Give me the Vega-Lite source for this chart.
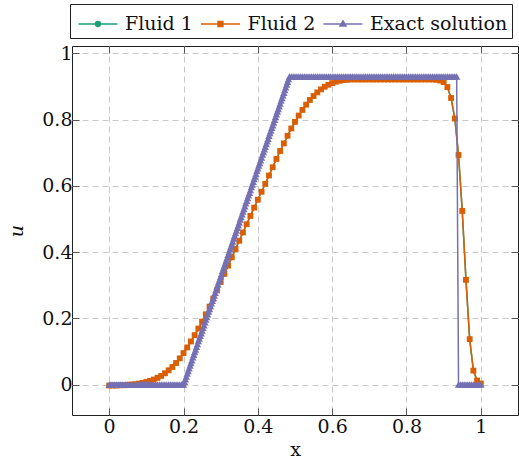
{
"$schema":"https://vega.github.io/schema/vega-lite/v6.json",
"width":446,"height":369,
"autosize":{"type":"none"},
"padding":{"left":72,"top":46,"right":1,"bottom":58},
"background":"white",
"datasets":{
"fluid":[{"x":0,"u":-0.003},{"x":0.01,"u":-0.003},{"x":0.02,"u":-0.003},{"x":0.03,"u":-0.002},{"x":0.04,"u":-0.002},{"x":0.05,"u":-0.001},{"x":0.06,"u":0},{"x":0.07,"u":0.001},{"x":0.08,"u":0.003},{"x":0.09,"u":0.005},{"x":0.1,"u":0.008},{"x":0.11,"u":0.011},{"x":0.12,"u":0.015},{"x":0.13,"u":0.02},{"x":0.14,"u":0.026},{"x":0.15,"u":0.034},{"x":0.16,"u":0.043},{"x":0.17,"u":0.053},{"x":0.18,"u":0.065},{"x":0.19,"u":0.079},{"x":0.2,"u":0.095},{"x":0.21,"u":0.112},{"x":0.22,"u":0.13},{"x":0.23,"u":0.149},{"x":0.24,"u":0.169},{"x":0.25,"u":0.19},{"x":0.26,"u":0.212},{"x":0.27,"u":0.235},{"x":0.28,"u":0.259},{"x":0.29,"u":0.284},{"x":0.3,"u":0.309},{"x":0.31,"u":0.334},{"x":0.32,"u":0.359},{"x":0.33,"u":0.384},{"x":0.34,"u":0.409},{"x":0.35,"u":0.434},{"x":0.36,"u":0.459},{"x":0.37,"u":0.484},{"x":0.38,"u":0.509},{"x":0.39,"u":0.534},{"x":0.4,"u":0.558},{"x":0.41,"u":0.582},{"x":0.42,"u":0.606},{"x":0.43,"u":0.631},{"x":0.44,"u":0.656},{"x":0.45,"u":0.681},{"x":0.46,"u":0.705},{"x":0.47,"u":0.728},{"x":0.48,"u":0.751},{"x":0.49,"u":0.773},{"x":0.5,"u":0.793},{"x":0.51,"u":0.812},{"x":0.52,"u":0.829},{"x":0.53,"u":0.845},{"x":0.54,"u":0.859},{"x":0.55,"u":0.871},{"x":0.56,"u":0.882},{"x":0.57,"u":0.891},{"x":0.58,"u":0.899},{"x":0.59,"u":0.905},{"x":0.6,"u":0.91},{"x":0.61,"u":0.914},{"x":0.62,"u":0.917},{"x":0.63,"u":0.919},{"x":0.64,"u":0.92},{"x":0.65,"u":0.921},{"x":0.66,"u":0.921},{"x":0.67,"u":0.921},{"x":0.68,"u":0.921},{"x":0.69,"u":0.921},{"x":0.7,"u":0.921},{"x":0.71,"u":0.921},{"x":0.72,"u":0.921},{"x":0.73,"u":0.921},{"x":0.74,"u":0.921},{"x":0.75,"u":0.921},{"x":0.76,"u":0.921},{"x":0.77,"u":0.921},{"x":0.78,"u":0.921},{"x":0.79,"u":0.921},{"x":0.8,"u":0.921},{"x":0.81,"u":0.921},{"x":0.82,"u":0.921},{"x":0.83,"u":0.921},{"x":0.84,"u":0.921},{"x":0.85,"u":0.921},{"x":0.86,"u":0.921},{"x":0.87,"u":0.921},{"x":0.88,"u":0.92},{"x":0.89,"u":0.918},{"x":0.9,"u":0.913},{"x":0.91,"u":0.898},{"x":0.92,"u":0.865},{"x":0.93,"u":0.803},{"x":0.94,"u":0.693},{"x":0.95,"u":0.524},{"x":0.96,"u":0.316},{"x":0.97,"u":0.137},{"x":0.98,"u":0.042},{"x":0.99,"u":0.012},{"x":1,"u":0.003}],
"exact":[{"x":0,"u":0},{"x":0.005,"u":0},{"x":0.01,"u":0},{"x":0.015,"u":0},{"x":0.02,"u":0},{"x":0.025,"u":0},{"x":0.03,"u":0},{"x":0.035,"u":0},{"x":0.04,"u":0},{"x":0.045,"u":0},{"x":0.05,"u":0},{"x":0.055,"u":0},{"x":0.06,"u":0},{"x":0.065,"u":0},{"x":0.07,"u":0},{"x":0.075,"u":0},{"x":0.08,"u":0},{"x":0.085,"u":0},{"x":0.09,"u":0},{"x":0.095,"u":0},{"x":0.1,"u":0},{"x":0.105,"u":0},{"x":0.11,"u":0},{"x":0.115,"u":0},{"x":0.12,"u":0},{"x":0.125,"u":0},{"x":0.13,"u":0},{"x":0.135,"u":0},{"x":0.14,"u":0},{"x":0.145,"u":0},{"x":0.15,"u":0},{"x":0.155,"u":0},{"x":0.16,"u":0},{"x":0.165,"u":0},{"x":0.17,"u":0},{"x":0.175,"u":0},{"x":0.18,"u":0},{"x":0.185,"u":0},{"x":0.19,"u":0},{"x":0.195,"u":0},{"x":0.2,"u":0},
{"x":0.2025,"u":0.008},{"x":0.205,"u":0.016},{"x":0.2075,"u":0.024},{"x":0.21,"u":0.033},{"x":0.2125,"u":0.041},{"x":0.215,"u":0.049},{"x":0.2175,"u":0.057},{"x":0.22,"u":0.065},{"x":0.2225,"u":0.073},{"x":0.225,"u":0.082},{"x":0.2275,"u":0.09},{"x":0.23,"u":0.098},{"x":0.2325,"u":0.106},{"x":0.235,"u":0.114},{"x":0.2375,"u":0.122},{"x":0.24,"u":0.131},{"x":0.2425,"u":0.139},{"x":0.245,"u":0.147},{"x":0.2475,"u":0.155},{"x":0.25,"u":0.163},{"x":0.2525,"u":0.171},{"x":0.255,"u":0.179},{"x":0.2575,"u":0.188},{"x":0.26,"u":0.196},{"x":0.2625,"u":0.204},{"x":0.265,"u":0.212},{"x":0.2675,"u":0.22},{"x":0.27,"u":0.228},{"x":0.2725,"u":0.237},{"x":0.275,"u":0.245},{"x":0.2775,"u":0.253},{"x":0.28,"u":0.261},{"x":0.2825,"u":0.269},{"x":0.285,"u":0.277},{"x":0.2875,"u":0.286},{"x":0.29,"u":0.294},{"x":0.2925,"u":0.302},{"x":0.295,"u":0.31},{"x":0.2975,"u":0.318},{"x":0.3,"u":0.326},{"x":0.3025,"u":0.334},{"x":0.305,"u":0.343},{"x":0.3075,"u":0.351},{"x":0.31,"u":0.359},{"x":0.3125,"u":0.367},{"x":0.315,"u":0.375},{"x":0.3175,"u":0.383},{"x":0.32,"u":0.392},{"x":0.3225,"u":0.4},{"x":0.325,"u":0.408},{"x":0.3275,"u":0.416},{"x":0.33,"u":0.424},{"x":0.3325,"u":0.432},{"x":0.335,"u":0.441},{"x":0.3375,"u":0.449},{"x":0.34,"u":0.457},{"x":0.3425,"u":0.465},{"x":0.345,"u":0.473},{"x":0.3475,"u":0.481},{"x":0.35,"u":0.489},{"x":0.3525,"u":0.498},{"x":0.355,"u":0.506},{"x":0.3575,"u":0.514},{"x":0.36,"u":0.522},{"x":0.3625,"u":0.53},{"x":0.365,"u":0.538},{"x":0.3675,"u":0.547},{"x":0.37,"u":0.555},{"x":0.3725,"u":0.563},{"x":0.375,"u":0.571},{"x":0.3775,"u":0.579},{"x":0.38,"u":0.587},{"x":0.3825,"u":0.596},{"x":0.385,"u":0.604},{"x":0.3875,"u":0.612},{"x":0.39,"u":0.62},{"x":0.3925,"u":0.628},{"x":0.395,"u":0.636},{"x":0.3975,"u":0.645},{"x":0.4,"u":0.653},{"x":0.4025,"u":0.661},{"x":0.405,"u":0.669},{"x":0.4075,"u":0.677},{"x":0.41,"u":0.685},{"x":0.4125,"u":0.694},{"x":0.415,"u":0.702},{"x":0.4175,"u":0.71},{"x":0.42,"u":0.718},{"x":0.4225,"u":0.726},{"x":0.425,"u":0.734},{"x":0.4275,"u":0.742},{"x":0.43,"u":0.751},{"x":0.4325,"u":0.759},{"x":0.435,"u":0.767},{"x":0.4375,"u":0.775},{"x":0.44,"u":0.783},{"x":0.4425,"u":0.791},{"x":0.445,"u":0.799},{"x":0.4475,"u":0.808},{"x":0.45,"u":0.816},{"x":0.4525,"u":0.824},{"x":0.455,"u":0.832},{"x":0.4575,"u":0.84},{"x":0.46,"u":0.848},{"x":0.4625,"u":0.857},{"x":0.465,"u":0.865},{"x":0.4675,"u":0.873},{"x":0.47,"u":0.881},{"x":0.4725,"u":0.889},{"x":0.475,"u":0.897},{"x":0.4775,"u":0.906},{"x":0.48,"u":0.914},{"x":0.4825,"u":0.922},{"x":0.485,"u":0.93},
{"x":0.49,"u":0.93},{"x":0.495,"u":0.93},{"x":0.5,"u":0.93},{"x":0.505,"u":0.93},{"x":0.51,"u":0.93},{"x":0.515,"u":0.93},{"x":0.52,"u":0.93},{"x":0.525,"u":0.93},{"x":0.53,"u":0.93},{"x":0.535,"u":0.93},{"x":0.54,"u":0.93},{"x":0.545,"u":0.93},{"x":0.55,"u":0.93},{"x":0.555,"u":0.93},{"x":0.56,"u":0.93},{"x":0.565,"u":0.93},{"x":0.57,"u":0.93},{"x":0.575,"u":0.93},{"x":0.58,"u":0.93},{"x":0.585,"u":0.93},{"x":0.59,"u":0.93},{"x":0.595,"u":0.93},{"x":0.6,"u":0.93},{"x":0.605,"u":0.93},{"x":0.61,"u":0.93},{"x":0.615,"u":0.93},{"x":0.62,"u":0.93},{"x":0.625,"u":0.93},{"x":0.63,"u":0.93},{"x":0.635,"u":0.93},{"x":0.64,"u":0.93},{"x":0.645,"u":0.93},{"x":0.65,"u":0.93},{"x":0.655,"u":0.93},{"x":0.66,"u":0.93},{"x":0.665,"u":0.93},{"x":0.67,"u":0.93},{"x":0.675,"u":0.93},{"x":0.68,"u":0.93},{"x":0.685,"u":0.93},{"x":0.69,"u":0.93},{"x":0.695,"u":0.93},{"x":0.7,"u":0.93},{"x":0.705,"u":0.93},{"x":0.71,"u":0.93},{"x":0.715,"u":0.93},{"x":0.72,"u":0.93},{"x":0.725,"u":0.93},{"x":0.73,"u":0.93},{"x":0.735,"u":0.93},{"x":0.74,"u":0.93},{"x":0.745,"u":0.93},{"x":0.75,"u":0.93},{"x":0.755,"u":0.93},{"x":0.76,"u":0.93},{"x":0.765,"u":0.93},{"x":0.77,"u":0.93},{"x":0.775,"u":0.93},{"x":0.78,"u":0.93},{"x":0.785,"u":0.93},{"x":0.79,"u":0.93},{"x":0.795,"u":0.93},{"x":0.8,"u":0.93},{"x":0.805,"u":0.93},{"x":0.81,"u":0.93},{"x":0.815,"u":0.93},{"x":0.82,"u":0.93},{"x":0.825,"u":0.93},{"x":0.83,"u":0.93},{"x":0.835,"u":0.93},{"x":0.84,"u":0.93},{"x":0.845,"u":0.93},{"x":0.85,"u":0.93},{"x":0.855,"u":0.93},{"x":0.86,"u":0.93},{"x":0.865,"u":0.93},{"x":0.87,"u":0.93},{"x":0.875,"u":0.93},{"x":0.88,"u":0.93},{"x":0.885,"u":0.93},{"x":0.89,"u":0.93},{"x":0.895,"u":0.93},{"x":0.9,"u":0.93},{"x":0.905,"u":0.93},{"x":0.91,"u":0.93},{"x":0.915,"u":0.93},{"x":0.92,"u":0.93},{"x":0.925,"u":0.93},{"x":0.93,"u":0.93},{"x":0.935,"u":0.93},
{"x":0.94,"u":0},{"x":0.945,"u":0},{"x":0.95,"u":0},{"x":0.955,"u":0},{"x":0.96,"u":0},{"x":0.965,"u":0},{"x":0.97,"u":0},{"x":0.975,"u":0},{"x":0.98,"u":0},{"x":0.985,"u":0},{"x":0.99,"u":0},{"x":0.995,"u":0},{"x":1,"u":0}]
},
"config":{
"font":"DejaVu Serif",
"view":{"stroke":"#222","strokeWidth":1},
"axis":{"domain":false,"tickColor":"#555","tickSize":-7,"tickWidth":1,"labelFont":"DejaVu Serif","labelFontSize":19,"labelColor":"#111","titleFont":"DejaVu Serif","titleFontSize":19,"titleFontWeight":"normal","titleColor":"#111","gridColor":"#c8c8c8","gridDash":[6,4],"gridWidth":1},
"legend":{"labelFont":"DejaVu Serif","labelFontSize":19,"labelColor":"#111"}
},
"resolve":{"axis":{"x":"independent","y":"independent"}},
"layer":[
{"data":{"name":"fluid"},"mark":{"type":"line","strokeWidth":1.5},
 "encoding":{
  "x":{"field":"x","type":"quantitative","scale":{"domain":[-0.1,1.1],"nice":false,"zero":false},
       "axis":{"orient":"bottom","title":"x","values":[0,0.2,0.4,0.6,0.8,1],"format":"~g","grid":true,"labelPadding":9,"titlePadding":4}},
  "y":{"field":"u","type":"quantitative","scale":{"domain":[-0.092,1.022],"nice":false,"zero":false},
       "axis":{"orient":"left","title":"u","titleFontStyle":"italic","values":[0,0.2,0.4,0.6,0.8,1],"format":"~g","grid":true,"labelPadding":7,"titlePadding":15}},
  "color":{"datum":"Fluid 1","type":"nominal",
   "scale":{"domain":["Fluid 1","Fluid 2","Exact solution"],"range":["#1b9e77","#d95f02","#7570b3"]},
   "legend":{"title":null,"orient":"none","legendX":-2,"legendY":-42,"direction":"horizontal",
     "strokeColor":"#222","fillColor":"white","padding":4,"cornerRadius":0,
     "symbolSize":900,"symbolStrokeWidth":1.5,"labelOffset":19,"columnPadding":3.5,
     "encode":{"symbols":{"update":{
       "shape":{"signal":"datum.value === 'Fluid 1' ? 'M-0.77,0H1.83M0.37,0A0.16,0.16,0,1,1,0.69,0A0.16,0.16,0,1,1,0.37,0Z' : datum.value === 'Fluid 2' ? 'M-0.77,0H1.83M0.37,-0.16H0.69V0.16H0.37Z' : 'M-0.77,0H1.83M0.53,-0.2L0.73,0.13H0.33Z'"},
       "fill":{"signal":"datum.value === 'Fluid 1' ? '#1b9e77' : datum.value === 'Fluid 2' ? '#d95f02' : '#7570b3'"},
       "stroke":{"signal":"datum.value === 'Fluid 1' ? '#1b9e77' : datum.value === 'Fluid 2' ? '#d95f02' : '#7570b3'"},
       "opacity":{"value":1}
     }}}}}
 }},
{"data":{"name":"fluid"},"mark":{"type":"point","shape":"circle","filled":true,"size":24,"opacity":1,"color":"#1b9e77"},
 "encoding":{"x":{"field":"x","type":"quantitative","axis":null},"y":{"field":"u","type":"quantitative","axis":null}}},
{"data":{"name":"fluid"},"mark":{"type":"line","strokeWidth":1.5},
 "encoding":{"x":{"field":"x","type":"quantitative","axis":null},"y":{"field":"u","type":"quantitative","axis":null},
  "color":{"datum":"Fluid 2","type":"nominal"}}},
{"data":{"name":"fluid"},"mark":{"type":"point","shape":"square","filled":true,"size":34,"opacity":1,"color":"#d95f02"},
 "encoding":{"x":{"field":"x","type":"quantitative","axis":null},"y":{"field":"u","type":"quantitative","axis":null}}},
{"data":{"name":"exact"},"mark":{"type":"line","strokeWidth":1.5},
 "encoding":{"x":{"field":"x","type":"quantitative","axis":null},"y":{"field":"u","type":"quantitative","axis":null},
  "color":{"datum":"Exact solution","type":"nominal"}}},
{"data":{"name":"exact"},"mark":{"type":"point","shape":"triangle-up","filled":true,"size":55,"opacity":1,"color":"#7570b3"},
 "encoding":{
  "x":{"field":"x","type":"quantitative","axis":{"orient":"top","labels":false,"grid":false,"title":null,"values":[0,0.2,0.4,0.6,0.8,1]}},
  "y":{"field":"u","type":"quantitative","axis":{"orient":"right","labels":false,"grid":false,"title":null,"values":[0,0.2,0.4,0.6,0.8,1]}}}}
]
}
